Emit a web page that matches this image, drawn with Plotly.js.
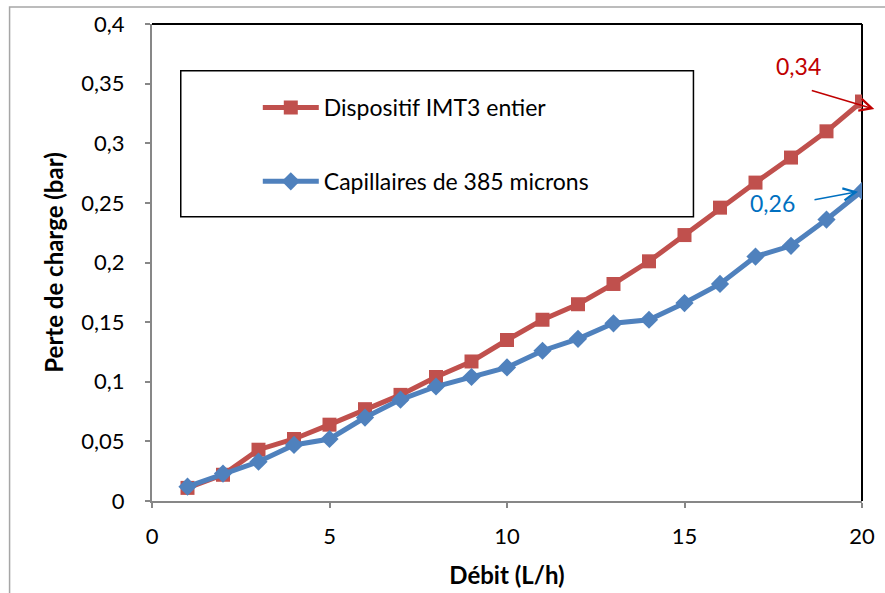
<!DOCTYPE html>
<html>
<head>
<meta charset="utf-8">
<script src="https://cdn.plot.ly/plotly-3.0.1.min.js"></script>
<style>html,body{margin:0;padding:0;background:#fff;}#chart{width:885px;height:593px;}</style>
</head>
<body>
<div id="chart"></div>
<script>
// Data
const debit = [1,2,3,4,5,6,7,8,9,10,11,12,13,14,15,16,17,18,19,20];
const imt3Entier = [0.011,0.022,0.043,0.052,0.064,0.077,0.089,0.104,0.117,0.135,0.152,0.165,0.182,0.201,0.223,0.246,0.267,0.288,0.310,0.335];
const capillaires385 = [0.012,0.023,0.033,0.047,0.052,0.070,0.085,0.096,0.104,0.112,0.126,0.136,0.149,0.152,0.166,0.182,0.205,0.214,0.236,0.260];
const seriesNames = ['Dispositif IMT3 entier', 'Capillaires de 385 microns'];
const yTickVals = [0,0.05,0.1,0.15,0.2,0.25,0.3,0.35,0.4];
const yTickText = ['0','0,05','0,1','0,15','0,2','0,25','0,3','0,35','0,4'];
const xTickVals = [0,5,10,15,20];
const xTickText = ['0','5','10','15','20'];
const xTitle = 'Débit (L/h)';
const yTitle = 'Perte de charge (bar)';
const labelRed = '0,34';
const labelBlue = '0,26';

const FONT = 'Lato, Carlito, Calibri, sans-serif';

const traces = [
  {x: debit, y: imt3Entier, name: seriesNames[0], type: 'scatter', mode: 'lines+markers',
   legendgroup: 'a',
   line: {color: '#C0504D', width: 5}, marker: {symbol: 'square', size: 14, color: '#C0504D'}},
  {x: debit, y: capillaires385, name: seriesNames[1], type: 'scatter', mode: 'lines+markers',
   legendgroup: 'b',
   line: {color: '#4F81BD', width: 5}, marker: {symbol: 'diamond', size: 14, color: '#4F81BD'}}
];

const layout = {
  width: 885, height: 593,
  margin: {l: 152, r: 23, t: 24, b: 92, pad: 0},
  paper_bgcolor: '#fff', plot_bgcolor: '#fff',
  font: {family: FONT, size: 22, color: '#000'},
  showlegend: true,
  legend: {x: 0.149, y: 0.87, xanchor: 'left', yanchor: 'top', bgcolor: 'rgba(0,0,0,0)',
           borderwidth: 0, font: {family: FONT, size: 23, color: '#000'},
           traceorder: 'grouped', tracegroupgap: 41, itemwidth: 56},
  xaxis: {range: [0, 20], tickvals: xTickVals, ticktext: xTickText, showgrid: false, zeroline: false,
          showline: true, linecolor: '#878787', linewidth: 2, ticks: 'outside', ticklen: 5, tickcolor: '#878787', tickwidth: 2,
          ticklabelstandoff: 10,
          tickfont: {family: FONT, size: 22, color: '#000'},
          title: {text: xTitle, font: {family: FONT, size: 24, color: '#000', weight: 'bold'}, standoff: 19}},
  yaxis: {range: [0, 0.4], tickvals: yTickVals, ticktext: yTickText, showgrid: false, zeroline: false,
          showline: true, linecolor: '#878787', linewidth: 2, ticks: 'outside', ticklen: 5, tickcolor: '#878787', tickwidth: 2,
          ticklabelstandoff: 16,
          tickfont: {family: FONT, size: 22, color: '#000'},
          title: {text: yTitle, font: {family: FONT, size: 24, color: '#000', weight: 'bold'}, standoff: 11}},
  shapes: [
    {type: 'rect', xref: 'paper', yref: 'paper', x0: -0.2006, x1: 1.3, y0: -0.4, y1: 1.0357,
     line: {color: '#a6a6a6', width: 1.5}, fillcolor: 'rgba(0,0,0,0)', layer: 'below'},
    {type: 'line', xref: 'paper', yref: 'paper', x0: 0, x1: 1, y0: 1, y1: 1, line: {color: '#000', width: 2}, layer: 'below'},
    {type: 'line', xref: 'paper', yref: 'paper', x0: 1, x1: 1, y0: 0, y1: 1, line: {color: '#000', width: 2}, layer: 'below'},
    {type: 'rect', xref: 'paper', yref: 'paper', x0: 0.0405, x1: 0.7626, y0: 0.5958, y1: 0.902,
     line: {color: '#000', width: 1.5}, fillcolor: '#fff', layer: 'below'}
  ],
  annotations: [
    {xref: 'paper', yref: 'paper', x: 0.9105, y: 0.912, xanchor: 'center', yanchor: 'middle', text: labelRed, showarrow: false,
     font: {family: FONT, size: 23, color: '#C00000'}},
    {xref: 'paper', yref: 'paper', x: 1.0173, y: 0.8217, text: '', showarrow: true, ax: -64, ay: -19,
     arrowhead: 5, arrowsize: 1.6, arrowwidth: 1.5, arrowcolor: '#C00000'},
    {xref: 'paper', yref: 'paper', x: 0.8733, y: 0.6246, xanchor: 'center', yanchor: 'middle', text: labelBlue, showarrow: false,
     font: {family: FONT, size: 23, color: '#0070C0'}},
    {xref: 'x', yref: 'y', x: 20, y: 0.26, text: '', showarrow: true, ax: -49, ay: 9, standoff: 4,
     arrowhead: 5, arrowsize: 1.6, arrowwidth: 1.5, arrowcolor: '#0070C0'}
  ]
};

Plotly.newPlot('chart', traces, layout, {displayModeBar: false, staticPlot: true});
</script>
</body>
</html>
